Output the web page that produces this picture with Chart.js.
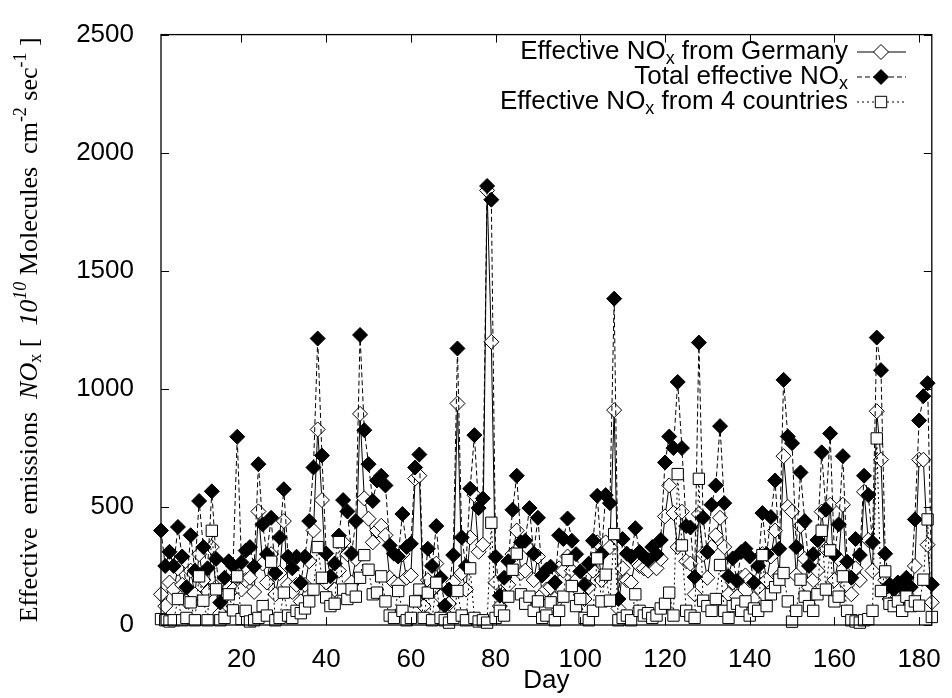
<!DOCTYPE html>
<html>
<head>
<meta charset="utf-8">
<script src="https://cdn.jsdelivr.net/npm/chart.js@4.4.0/dist/chart.umd.min.js"></script>
<style>
  html, body { margin: 0; padding: 0; background: #fff; }
  #wrap { width: 952px; height: 698px; position: relative; }
</style>
</head>
<body>
<div id="wrap"><canvas id="myChart"></canvas></div>
<script>
// day numbers 1..183
var days = Array.from({ length: 183 }, function (_, i) { return i + 1; });

// Effective NOx from Germany (open diamonds)
var germany = [
  130, 80, 180, 150, 240, 170, 100, 230, 130, 300,
  190, 140, 330, 160, 50, 120, 160, 150, 210, 150,
  190, 200, 140, 481, 260, 180, 300, 130, 220, 440,
  170, 140, 170, 100, 170, 270, 400, 828, 529, 180,
  120, 150, 230, 350, 300, 180, 280, 894, 536, 450,
  350, 400, 420, 380, 200, 180, 170, 300, 200, 210,
  620, 632, 80, 190, 150, 260, 120, 50, 90, 180,
  938, 220, 150, 370, 550, 310, 340, 1840, 1199, 180,
  80, 120, 170, 300, 400, 220, 230, 320, 190, 290,
  130, 150, 160, 110, 240, 230, 290, 230, 190, 140,
  110, 160, 230, 350, 190, 350, 330, 910, 70, 240,
  190, 180, 270, 250, 240, 230, 260, 240, 280, 460,
  591, 474, 330, 480, 270, 260, 130, 470, 300, 200,
  330, 380, 454, 330, 130, 180, 120, 200, 210, 190,
  110, 160, 300, 190, 290, 400, 210, 715, 500, 480,
  210, 420, 280, 160, 190, 230, 480, 320, 509, 190,
  280, 509, 170, 130, 240, 190, 564, 360, 230, 905,
  700, 190, 110, 100, 120, 100, 130, 100, 250, 700,
  700, 340, 96
];

// Total effective NOx (filled diamonds)
var total = [
  400, 250, 310, 250, 415, 290, 160, 380, 230, 525,
  330, 240, 566, 280, 95, 200, 270, 250, 797, 265,
  315, 330, 248, 681, 426, 300, 454, 220, 371, 575,
  289, 240, 289, 179, 289, 440, 667, 1213, 718, 303,
  206, 260, 378, 529, 481, 303, 440, 1228, 825, 681,
  525, 612, 632, 591, 337, 302, 290, 470, 330, 344,
  667, 722, 137, 323, 250, 419, 200, 82, 150, 296,
  1171, 371, 250, 577, 804, 495, 536, 1859, 1801, 289,
  124, 200, 270, 488, 632, 350, 357, 495, 302, 454,
  210, 234, 247, 180, 380, 364, 451, 357, 300, 227,
  172, 260, 357, 547, 300, 550, 516, 1382, 110, 364,
  302, 290, 410, 309, 290, 275, 330, 300, 360, 688,
  798, 749, 1029, 749, 419, 413, 203, 1196, 454, 309,
  509, 591, 842, 516, 206, 282, 186, 309, 323, 290,
  179, 250, 474, 300, 457, 612, 323, 1038, 798, 770,
  330, 646, 440, 250, 300, 360, 731, 488, 811, 300,
  426, 715, 268, 200, 364, 296, 632, 550, 350, 1217,
  1079, 302, 170, 150, 180, 160, 200, 160, 447, 866,
  969, 1024, 172
];

// Effective NOx from 4 countries (open squares)
var fourCountries = [
  25, 20, 15, 20, 110, 20, 30, 96, 20, 206,
  103, 20, 399, 151, 20, 30, 130, 62, 206, 25,
  60, 15, 20, 30, 80, 40, 268, 20, 30, 137,
  40, 30, 60, 50, 70, 100, 150, 330, 200, 117,
  80, 90, 351, 150, 110, 151, 120, 200, 296, 234,
  130, 137, 206, 100, 40, 30, 144, 60, 20, 30,
  100, 150, 30, 137, 20, 179, 30, 20, 10, 30,
  144, 40, 20, 240, 30, 15, 20, 10, 433, 30,
  60, 40, 120, 234, 302, 130, 90, 120, 60, 100,
  30, 40, 96, 20, 60, 120, 275, 165, 80, 110,
  30, 20, 60, 282, 100, 213, 103, 385, 20, 30,
  40, 20, 130, 60, 40, 50, 30, 40, 70, 90,
  137, 40, 639, 337, 60, 40, 30, 619, 103, 80,
  60, 110, 254, 60, 30, 80, 90, 60, 100, 40,
  70, 60, 296, 80, 130, 160, 192, 220, 100, 14,
  60, 192, 120, 80, 60, 130, 399, 150, 316, 100,
  120, 206, 60, 20, 15, 10, 20, 25, 60, 790,
  144, 227, 90, 80, 100, 60, 120, 80, 100, 82,
  192, 447, 34
];

var xTicks = [20, 40, 60, 80, 100, 120, 140, 160, 180];
var yTicks = [0, 500, 1000, 1500, 2000, 2500];

var sans = '"Liberation Sans", Arial, Helvetica, sans-serif';
var serif = '"Liberation Serif", "Times New Roman", serif';

function toPoints(vals) {
  return days.map(function (d, i) { return { x: d, y: vals[i] }; });
}

// legend entries, drawn gnuplot style (text right, sample left)
var legendItems = [
  { pre: 'Effective NO', sub: 'x', post: ' from Germany', dash: [], shape: 'diamond', fill: '#fff' },
  { pre: 'Total effective NO', sub: 'x', post: '', dash: [5, 3], shape: 'diamond', fill: '#000' },
  { pre: 'Effective NO', sub: 'x', post: ' from 4 countries', dash: [2, 3], shape: 'square', fill: '#fff' }
];

function drawMarker(ctx, shape, fill, x, y) {
  ctx.save();
  ctx.setLineDash([]);
  ctx.beginPath();
  if (shape == 'diamond') {
    var r = 7.5;
    ctx.moveTo(x - r, y); ctx.lineTo(x, y - r); ctx.lineTo(x + r, y); ctx.lineTo(x, y + r);
    ctx.closePath();
  } else {
    var s = 5.7;
    ctx.rect(x - s, y - s, 2 * s, 2 * s);
  }
  ctx.fillStyle = fill;
  ctx.fill();
  ctx.lineWidth = 1;
  ctx.strokeStyle = '#000';
  ctx.stroke();
  ctx.restore();
}

var legendPlugin = {
  id: 'gnuLegend',
  afterDraw: function (chart) {
    var ctx = chart.ctx;
    ctx.save();
    var big = '26px ' + sans, small = '18px ' + sans;
    legendItems.forEach(function (it, i) {
      var y = 52 + i * 25;
      ctx.font = big;
      var w1 = ctx.measureText(it.pre).width, w3 = ctx.measureText(it.post).width;
      ctx.font = small;
      var w2 = ctx.measureText(it.sub).width;
      var x = 848 - (w1 + w2 + w3);
      ctx.fillStyle = '#000';
      ctx.textBaseline = 'middle';
      ctx.textAlign = 'left';
      ctx.font = big; ctx.fillText(it.pre, x, y); x += w1;
      ctx.font = small; ctx.fillText(it.sub, x, y + 7); x += w2;
      ctx.font = big; ctx.fillText(it.post, x, y);

      ctx.beginPath();
      ctx.setLineDash(it.dash);
      ctx.lineWidth = 1;
      ctx.strokeStyle = '#000';
      ctx.moveTo(857, y); ctx.lineTo(906, y);
      ctx.stroke();
      drawMarker(ctx, it.shape, it.fill, 881, y);
    });
    ctx.restore();
  }
};

// border box plus inward ticks on all four sides
var framePlugin = {
  id: 'frame',
  afterDraw: function (chart) {
    var ctx = chart.ctx, a = chart.chartArea;
    var xs = chart.scales.x, ys = chart.scales.y;
    ctx.save();
    ctx.strokeStyle = '#000';
    ctx.lineWidth = 1.3;
    ctx.setLineDash([]);
    ctx.strokeRect(a.left, a.top, a.right - a.left, a.bottom - a.top);
    ctx.lineWidth = 1;
    ctx.beginPath();
    xTicks.forEach(function (v) {
      var px = Math.round(xs.getPixelForValue(v)) + 0.5;
      ctx.moveTo(px, a.bottom); ctx.lineTo(px, a.bottom - 8);
      ctx.moveTo(px, a.top); ctx.lineTo(px, a.top + 8);
    });
    yTicks.forEach(function (v) {
      var py = Math.round(ys.getPixelForValue(v)) + 0.5;
      ctx.moveTo(a.left, py); ctx.lineTo(a.left + 8, py);
      ctx.moveTo(a.right, py); ctx.lineTo(a.right - 8, py);
    });
    ctx.stroke();
    ctx.restore();
  }
};

// rotated y title with italics, sub- and superscripts
var yTitlePlugin = {
  id: 'yTitle',
  afterDraw: function (chart) {
    var ctx = chart.ctx, a = chart.chartArea;
    var parts = [
      { t: 'Effective  emissions  ', f: '26px ' + serif, dy: 0 },
      { t: 'NO', f: 'italic 26px ' + serif, dy: 0 },
      { t: 'x', f: '18px ' + serif, dy: 6 },
      { t: ' [  ', f: '26px ' + serif, dy: 0 },
      { t: '10', f: 'italic 26px ' + serif, dy: 0 },
      { t: '10', f: 'italic 18px ' + serif, dy: -9 },
      { t: ' Molecules  cm', f: '26px ' + serif, dy: 0 },
      { t: '-2', f: '18px ' + serif, dy: -9 },
      { t: ' sec', f: '26px ' + serif, dy: 0 },
      { t: '-1', f: '18px ' + serif, dy: -9 },
      { t: ' ]', f: '26px ' + serif, dy: 0 }
    ];
    ctx.save();
    var w = 0;
    parts.forEach(function (p) { ctx.font = p.f; p.w = ctx.measureText(p.t).width; w += p.w; });
    ctx.translate(30, (a.top + a.bottom) / 2);
    ctx.rotate(-Math.PI / 2);
    ctx.fillStyle = '#000';
    ctx.textBaseline = 'middle';
    ctx.textAlign = 'left';
    var x = -w / 2;
    parts.forEach(function (p) {
      ctx.font = p.f;
      ctx.fillText(p.t, x, p.dy);
      x += p.w;
    });
    ctx.restore();
  }
};

var ctx = document.getElementById('myChart').getContext('2d');

var myNewChart = new Chart(ctx, {
  type: 'line',
  data: {
    datasets: [
      {
        label: 'Effective NOx from Germany',
        data: toPoints(germany),
        order: 3,
        borderColor: '#000',
        borderWidth: 1,
        pointStyle: 'rectRot',
        pointRadius: 7.5,
        pointBorderWidth: 1,
        pointBorderColor: '#000',
        pointBackgroundColor: '#fff',
        tension: 0,
        clip: false
      },
      {
        label: 'Total effective NOx',
        data: toPoints(total),
        order: 2,
        borderColor: '#000',
        borderWidth: 1,
        borderDash: [5, 3],
        pointStyle: 'rectRot',
        pointRadius: 7.5,
        pointBorderWidth: 1,
        pointBorderColor: '#000',
        pointBackgroundColor: '#000',
        tension: 0,
        clip: false
      },
      {
        label: 'Effective NOx from 4 countries',
        data: toPoints(fourCountries),
        order: 1,
        borderColor: '#000',
        borderWidth: 1,
        borderDash: [2, 3],
        pointStyle: 'rect',
        pointRadius: 8,
        pointBorderWidth: 1,
        pointBorderColor: '#000',
        pointBackgroundColor: '#fff',
        tension: 0,
        clip: false
      }
    ]
  },
  options: {
    responsive: true,
    maintainAspectRatio: false,
    animation: false,
    devicePixelRatio: 1,
    layout: { padding: { left: 0, right: 13, top: 20, bottom: 0 } },
    plugins: {
      legend: { display: false },
      tooltip: { enabled: false }
    },
    scales: {
      x: {
        type: 'linear',
        min: 1,
        max: 183,
        afterBuildTicks: function (scale) {
          scale.ticks = xTicks.map(function (v) { return { value: v }; });
        },
        afterFit: function (scale) { scale.height = 73; },
        grid: { display: false },
        border: { display: false },
        ticks: {
          color: '#000',
          font: { family: sans, size: 26 },
          padding: 11,
          maxRotation: 0,
          autoSkip: false,
          callback: function (v) { return String(v); }
        },
        title: {
          display: true,
          text: 'Day',
          color: '#000',
          font: { family: sans, size: 26 },
          padding: { top: 0, bottom: 2 }
        }
      },
      y: {
        min: 0,
        max: 2500,
        afterBuildTicks: function (scale) {
          scale.ticks = yTicks.map(function (v) { return { value: v }; });
        },
        afterFit: function (scale) { scale.width = 161; },
        grid: { display: false },
        border: { display: false },
        ticks: {
          color: '#000',
          font: { family: sans, size: 26 },
          padding: 19,
          callback: function (v) { return String(v); }
        }
      }
    }
  },
  plugins: [framePlugin, legendPlugin, yTitlePlugin]
});
</script>
</body>
</html>
